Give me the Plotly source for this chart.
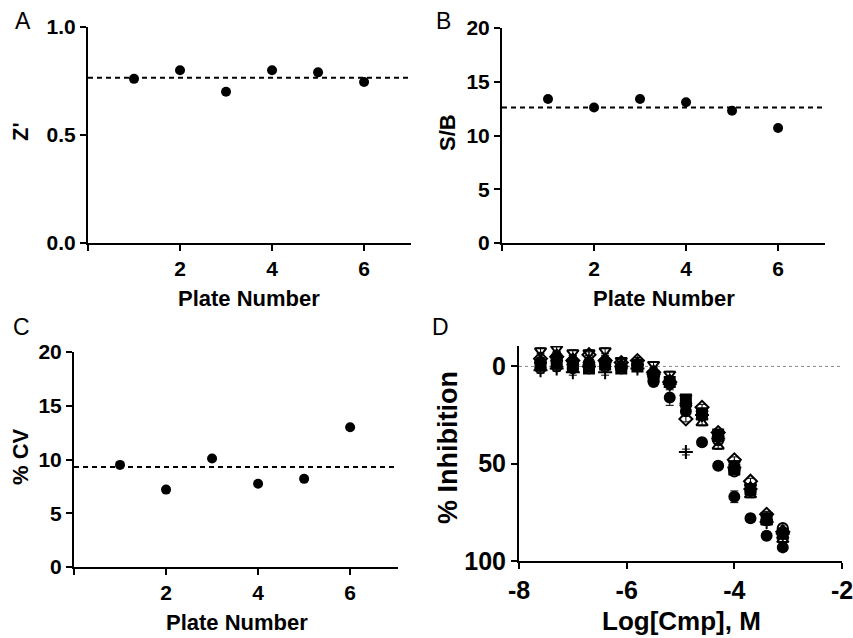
import plotly.graph_objects as go

W, H = 853, 638

# ---------------- data ----------------
plates = [1, 2, 3, 4, 5, 6]
z_prime = [0.76, 0.80, 0.70, 0.80, 0.79, 0.745]
z_mean = 0.765
s_b = [13.4, 12.6, 13.4, 13.1, 12.3, 10.7]
sb_mean = 12.6
cv = [9.5, 7.2, 10.1, 7.75, 8.2, 13.0]
cv_mean = 9.3

log_cmp = [-7.6, -7.3, -7.0, -6.7, -6.4, -6.1, -5.8, -5.5,
           -5.2, -4.9, -4.6, -4.3, -4.0, -3.7, -3.4, -3.1]
inh_filled_circle = [-2, -5, -2, -2, -2, 0, 0, 8, 16, 23, 39, 51, 67, 78, 87, 93]
inh_filled_circle_err = [2, 2, 2, 2, 2, 1, 1, 2, 4, 2, 2, 2, 3, 2, 2, 2]
inh_open_circle = [1, 0, 1, 1, 0, 1, -1, 5, 9, 20, 25, 38, 54, 64, 79, 83]
inh_open_tri_up = [-3, -4, -2, -2, -3, 0, -2, 3, 7, 19, 29, 41, 51, 66, 80, 89]
inh_open_tri_down = [-8, -9, -7, -7, -8, -3, -2, -1, 4, 16, 24, 37, 50, 62, 77, 86]
inh_open_diamond = [-4, -5, -3, -6, -3, -2, -3, 3, 8, 27, 21, 34, 48, 59, 76, 85]
inh_plus = [2, 1, 3, 0, 3, 0, 1, 4, 9, 44, 25, 37, 52, 63, 80, 86]
inh_filled_square = [-1, -2, 0, 1, -1, 1, 0, 5, 8, 17, 24, 35, 53, 63, 78, 86]
inh_filled_tri = [-3, -6, -4, -3, -4, -1, -2, 4, 7, 18, 26, 37, 52, 62, 78, 87]
small_err = [1.5] * 16

plate_ticks = [0, 2, 4, 6]
plate_ticktext = ["", "2", "4", "6"]
d_xticks = [-8, -6, -4, -2]
d_xticktext = ["-8", "-6", "-4", "-2"]


def px(x):
    return x / W


def py(y):
    return 1 - y / H


FONT = "Liberation Sans, Arial, sans-serif"

fig = go.Figure()

# ---------- panels A-C ----------
for xa, ya, vals, mean in [("x", "y", z_prime, z_mean),
                           ("x2", "y2", s_b, sb_mean),
                           ("x3", "y3", cv, cv_mean)]:
    fig.add_trace(go.Scatter(x=[0, 7.02], y=[mean, mean], mode="lines",
                             line=dict(color="black", width=2, dash="5px,4px"),
                             xaxis=xa, yaxis=ya, showlegend=False, hoverinfo="skip"))
    fig.add_trace(go.Scatter(x=plates, y=vals, mode="markers",
                             marker=dict(color="black", size=10, symbol="circle"),
                             xaxis=xa, yaxis=ya, showlegend=False))

# ---------- panel D ----------
fig.add_trace(go.Scatter(x=[-8, -2], y=[0, 0], mode="lines",
                         line=dict(color="#888888", width=1, dash="dot"),
                         xaxis="x4", yaxis="y4", showlegend=False, hoverinfo="skip"))

d_series = [
    (inh_open_tri_down, "triangle-down-open", small_err),
    (inh_open_tri_up, "triangle-up-open", small_err),
    (inh_open_diamond, "diamond-open", small_err),
    (inh_open_circle, "circle-open", small_err),
    (inh_filled_square, "square", small_err),
    (inh_filled_tri, "triangle-up", small_err),
    (inh_plus, "cross-thin-open", small_err),
    (inh_filled_circle, "circle", inh_filled_circle_err),
]
for vals, sym, err in d_series:
    fig.add_trace(go.Scatter(
        x=log_cmp, y=vals, mode="markers",
        marker=dict(color="black", size=10, symbol=sym,
                    line=dict(color="black", width=2)),
        error_y=dict(type="data", array=err, visible=True, color="black",
                     thickness=1, width=4),
        xaxis="x4", yaxis="y4", showlegend=False))

axis_common = dict(showline=True, linecolor="black", linewidth=2, ticks="outside",
                   ticklen=6, tickwidth=2, tickcolor="black", showgrid=False,
                   zeroline=False, mirror=False, automargin=False,
                   ticklabeloverflow="allow")
tf = dict(family=FONT, size=21, color="black", weight="bold")
tfd = dict(family=FONT, size=25, color="black", weight="bold")

fig.update_layout(
    width=W, height=H, autosize=False,
    margin=dict(l=0, r=0, t=0, b=0, pad=0),
    paper_bgcolor="white", plot_bgcolor="white",
    xaxis=dict(domain=[px(88), px(411)], range=[0, 7.02], tickvals=plate_ticks,
               ticktext=plate_ticktext, tickfont=tf, anchor="y", **axis_common),
    yaxis=dict(domain=[py(243), py(27)], range=[0, 1.0], tickvals=[0, 0.5, 1.0],
               ticktext=["0.0", "0.5", "1.0"], tickfont=tf, anchor="x", **axis_common),
    xaxis2=dict(domain=[px(502), px(825)], range=[0, 7.02], tickvals=plate_ticks,
                ticktext=plate_ticktext, tickfont=tf, anchor="y2", **axis_common),
    yaxis2=dict(domain=[py(243), py(28)], range=[0, 20], tickvals=[0, 5, 10, 15, 20],
                tickfont=tf, anchor="x2", **axis_common),
    xaxis3=dict(domain=[px(74), px(398)], range=[0, 7.04], tickvals=plate_ticks,
                ticktext=plate_ticktext, tickfont=tf, anchor="y3", **axis_common),
    yaxis3=dict(domain=[py(567), py(352)], range=[0, 20], tickvals=[0, 5, 10, 15, 20],
                tickfont=tf, anchor="x3", **axis_common),
    xaxis4=dict(domain=[px(519), px(842)], range=[-8, -2], tickvals=d_xticks,
                ticktext=d_xticktext, tickfont=tfd, anchor="y4", **axis_common),
    yaxis4=dict(domain=[py(561), py(346)], range=[100, -10.5], tickvals=[0, 50, 100],
                tickfont=tfd, anchor="x4", **axis_common),
)

ann = []


def add_text(text, x, y, size, bold=True, angle=0):
    ann.append(dict(text=text, x=px(x), y=py(y), xref="paper", yref="paper",
                    xanchor="center", yanchor="middle", showarrow=False, textangle=angle,
                    font=dict(family=FONT, size=size, color="black",
                              weight="bold" if bold else "normal")))


# x titles
add_text("Plate Number", 249, 298, 22)
add_text("Plate Number", 664, 298, 22)
add_text("Plate Number", 237, 622, 22)
add_text("Log[Cmp], M", 681, 621, 26)
# y titles
add_text("Z'", 21, 132, 22, angle=-90)
add_text("S/B", 447, 133, 22, angle=-90)
add_text("% CV", 20, 457, 22, angle=-90)
add_text("% Inhibition", 448, 448, 27, angle=-90)
# panel letters
add_text("A", 23, 21, 23, bold=False)
add_text("B", 443, 21, 23, bold=False)
add_text("C", 21, 327, 23, bold=False)
add_text("D", 441, 327, 23, bold=False)

fig.update_layout(annotations=ann)

fig.write_html(
    "out.html",
    config={"displayModeBar": False},
    post_script="document.body.style.margin='0px';document.body.style.overflow='hidden';",
)
